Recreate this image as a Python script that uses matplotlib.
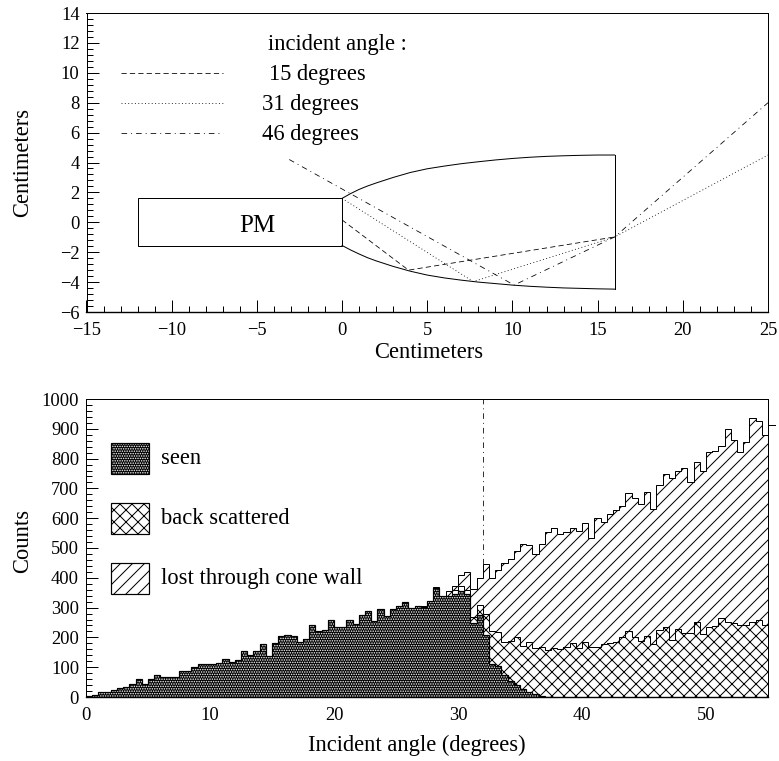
import numpy as np
import matplotlib
matplotlib.use("Agg")
import matplotlib.pyplot as plt
from matplotlib.patches import Rectangle
from matplotlib.ticker import MultipleLocator

plt.rcParams['font.family'] = ['Liberation Serif', 'DejaVu Serif']
plt.rcParams['hatch.linewidth'] = 1.0
plt.rcParams['axes.unicode_minus'] = True

# ---------- top panel data ----------
pm_x = [-12, 0]
pm_y = [-1.6, 1.6]
cone_x = [0, 0.5, 1, 1.5, 2, 3, 4, 5, 6, 7, 8, 9, 10, 11, 12, 13, 14, 15, 16]
cone_top = [1.6, 1.92, 2.2, 2.43, 2.63, 3.0, 3.33, 3.58, 3.76, 3.92, 4.05, 4.17, 4.27, 4.35, 4.41, 4.45, 4.48, 4.5, 4.5]
cone_bot = [-1.55, -1.85, -2.12, -2.37, -2.58, -2.95, -3.27, -3.53, -3.72, -3.87, -4.0, -4.1, -4.2, -4.28, -4.34, -4.39, -4.42, -4.45, -4.47]
ray15_x = [0, 3.9, 16]
ray15_y = [0.16, -3.2, -0.98]
ray31_x = [0, 7.7, 16, 25]
ray31_y = [1.6, -3.97, -0.98, 4.5]
ray46_x = [-3.1, 10.1, 16, 25]
ray46_y = [4.2, -4.2, -0.98, 8.0]
legend_x = [-13, -7]
legend_levels = [10, 8, 6]
legend_labels = ['15 degrees', '31 degrees', '46 degrees']
legend_text_x = [-4.3, -4.7, -4.7]

# ---------- bottom panel data (0.5 degree bins) ----------
bin_width = 0.5
seen = [3, 6, 18, 18, 23, 31, 34, 43, 59, 43, 59, 74, 68, 68, 66, 86, 86, 102, 112, 110,
        112, 113, 126, 119, 123, 155, 140, 153, 177, 139, 180, 206, 209, 205, 185, 193,
        240, 221, 224, 260, 236, 235, 258, 246, 276, 290, 255, 294, 271, 295, 306, 318,
        300, 305, 302, 321, 367, 339, 339, 344, 357, 344, 250, 275, 208, 110, 104, 75,
        55, 40, 28, 18, 10, 4, 1]
back_start = 56
back = [367, 339, 340, 358, 372, 359, 270, 310, 280, 220, 219, 186, 189, 202, 171, 186,
        163, 169, 158, 163, 160, 167, 182, 163, 186, 167, 169, 178, 182, 183, 202, 223,
        202, 189, 206, 178, 225, 236, 191, 227, 214, 214, 253, 211, 236, 239, 266, 253,
        247, 242, 242, 253, 258, 242]
total_start = 53
total = [307, 304, 323, 368, 340, 356, 372, 409, 418, 362, 398, 445, 400, 426, 448, 462,
         490, 515, 509, 480, 513, 553, 568, 548, 555, 568, 556, 583, 532, 600, 588, 615,
         627, 642, 686, 667, 647, 689, 631, 711, 748, 734, 760, 770, 720, 787, 760, 823,
         825, 843, 901, 862, 823, 857, 935, 926, 879]
overflow_level = 913
cut_angle = 32
key_x = [2.0, 5.1]
key_y = [(748, 852), (547, 651), (346, 450)]
key_labels = ['seen', 'back scattered', 'lost through cone wall']

W, H = 779, 761
fig = plt.figure(figsize=(W / 72, H / 72), dpi=72, facecolor='white')
TXT = 22.5
TICK = 18.5


def axes_px(l, t, r, b):
    return fig.add_axes([l / W, 1 - b / H, (r - l) / W, (b - t) / H])


def style(ax):
    ax.tick_params(which='major', direction='in', length=12, width=1, top=False, right=False,
                   labelsize=TICK)
    ax.tick_params(axis='x', which='major', pad=9.5)
    ax.tick_params(axis='y', which='major', pad=7)
    ax.tick_params(which='minor', direction='in', length=6, width=1, top=False, right=False)
    for s in ax.spines.values():
        s.set_linewidth(1)
        s.set_zorder(10)
    ax.spines['bottom'].set_linewidth(1.4)
    ax.set_axisbelow(False)


# ---------- top panel ----------
ax1 = axes_px(86.5, 13, 768, 312)
ax1.set_xlim(-15, 25)
ax1.set_ylim(-6, 14)
ax1.xaxis.set_major_locator(MultipleLocator(5))
ax1.xaxis.set_minor_locator(MultipleLocator(1))
ax1.yaxis.set_major_locator(MultipleLocator(2))
ax1.yaxis.set_minor_locator(MultipleLocator(0.4))
style(ax1)

ax1.add_patch(Rectangle((pm_x[0], pm_y[0]), pm_x[1] - pm_x[0], pm_y[1] - pm_y[0],
                        fill=False, ec='black', lw=1))
ax1.plot(cone_x, cone_top, color='black', lw=1)
ax1.plot(cone_x, cone_bot, color='black', lw=1)
ax1.plot([cone_x[-1], cone_x[-1]], [cone_bot[-1], cone_top[-1]], color='black', lw=1)

dash = (0, (6.5, 4))
dot = (0, (1.2, 3))
dashdot = (0, (7, 5, 1.2, 5))
styles = [dash, dot, dashdot]
ax1.plot(ray15_x, ray15_y, color='black', lw=0.8, ls=dash)
ax1.plot(ray31_x, ray31_y, color='black', lw=0.8, ls=dot)
ax1.plot(ray46_x, ray46_y, color='black', lw=0.8, ls=dashdot)

for lvl, lab, tx, st in zip(legend_levels, legend_labels, legend_text_x, styles):
    ax1.plot(legend_x, [lvl, lvl], color='black', lw=0.8, ls=st)
    ax1.text(tx, lvl - 0.13, lab, fontsize=TXT, va='center', ha='left')
ax1.text(-4.35, 12 - 0.13, 'incident angle :', fontsize=TXT, va='center', ha='left')
ax1.text(-5, -0.25, 'PM', fontsize=25, va='center', ha='center')
ax1.set_xlabel('Centimeters', fontsize=TXT, va='center')
ax1.set_ylabel('Centimeters', fontsize=TXT, va='center')
ax1.xaxis.set_label_coords(0.5025, -0.137)
ax1.yaxis.set_label_coords(-0.093, 0.50)

# ---------- bottom panel ----------
ax2 = axes_px(86, 399, 768, 697)
ax2.set_xlim(0, 55)
ax2.set_ylim(0, 1000)
ax2.xaxis.set_major_locator(MultipleLocator(10))
ax2.xaxis.set_minor_locator(MultipleLocator(2))
ax2.yaxis.set_major_locator(MultipleLocator(100))
ax2.yaxis.set_minor_locator(MultipleLocator(20))
style(ax2)


def edges(start, n):
    return (start + np.arange(n + 1)) * bin_width


DARK = '#000000'
HS = '.....'
e_total = edges(total_start, len(total))
e_back = edges(back_start, len(back))
e_seen = edges(0, len(seen))

ax2.stairs(total, e_total, fill=True, facecolor='white', edgecolor='black', hatch='//', lw=0, zorder=2)
ax2.stairs(total, e_total, color='black', lw=1, zorder=2.1)
ax2.stairs(back, e_back, fill=True, facecolor='white', edgecolor='black', hatch='xx', lw=0, zorder=3)
ax2.stairs(back, e_back, color='black', lw=1, zorder=3.1)
ax2.stairs(seen, e_seen, fill=True, facecolor=DARK, edgecolor='white', hatch=HS, lw=0, zorder=4)
ax2.stairs(seen, e_seen, color='black', lw=1.2, zorder=4.1)

ax2.plot([55, 55, 55.55], [total[-1], overflow_level, overflow_level], color='black', lw=1,
         clip_on=False, zorder=5)
ax2.plot([cut_angle, cut_angle], [445, 1000], color='black', lw=0.8, ls=dashdot, zorder=5)

key_styles = [dict(facecolor=DARK, edgecolor='white', hatch=HS),
              dict(facecolor='white', edgecolor='black', hatch='xx'),
              dict(facecolor='white', edgecolor='black', hatch='//')]
for (y0, y1), lab, ks in zip(key_y, key_labels, key_styles):
    ax2.add_patch(Rectangle((key_x[0], y0), key_x[1] - key_x[0], y1 - y0, lw=0, **ks))
    ax2.add_patch(Rectangle((key_x[0], y0), key_x[1] - key_x[0], y1 - y0, fill=False, ec='black', lw=1.2))
    ax2.text(6.05, (y0 + y1) / 2, lab, fontsize=TXT, va='center', ha='left')

ax2.set_xlabel('Incident angle (degrees)', fontsize=TXT, va='center')
ax2.set_ylabel('Counts', fontsize=TXT, va='center')
ax2.xaxis.set_label_coords(0.485, -0.161)
ax2.yaxis.set_label_coords(-0.093, 0.523)

fig.savefig('out.png', dpi=72, facecolor='white')
